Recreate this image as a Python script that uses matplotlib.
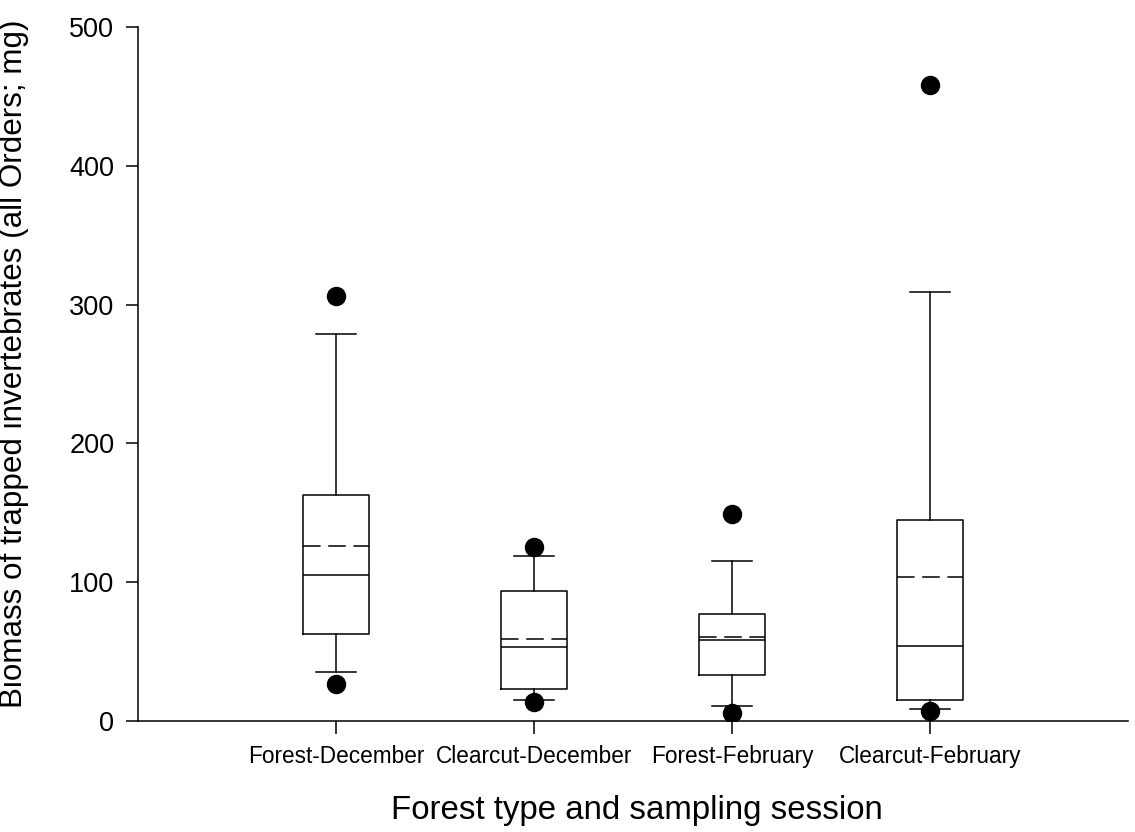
import matplotlib
matplotlib.use("Agg")
import matplotlib.pyplot as plt

categories = ["Forest-December", "Clearcut-December", "Forest-February", "Clearcut-February"]
q1 = [63, 23, 33, 15]
medians = [105, 53, 58, 54]
q3 = [163, 94, 77, 145]
means = [126, 59, 60.5, 104]
whisk_lo = [35, 15, 11, 9]
whisk_hi = [279, 119, 115, 309]
fliers = [[27, 306], [13.5, 125.5], [5.5, 149], [7.5, 458]]

plt.rcParams['font.family'] = ['Liberation Sans', 'DejaVu Sans']

fig = plt.figure(figsize=(11.35, 8.32), dpi=100)
ax = fig.add_axes([138/1135, 1 - 721/832, (1128-138)/1135, (721-27)/832])

stats = []
for i, c in enumerate(categories):
    stats.append(dict(label=c, q1=q1[i], med=medians[i], q3=q3[i], mean=means[i],
                      whislo=whisk_lo[i], whishi=whisk_hi[i], fliers=fliers[i]))

positions = list(range(1, len(categories) + 1))
ax.bxp(stats, positions=positions, widths=0.335, showmeans=True, meanline=True,
       boxprops=dict(color='black', linewidth=1.1),
       medianprops=dict(color='black', linewidth=1.1),
       meanprops=dict(color='black', linewidth=1.1, linestyle=(0, (11.5, 5))),
       whiskerprops=dict(color='black', linewidth=1.1),
       capprops=dict(color='black', linewidth=1.1),
       capwidths=0.2,
       flierprops=dict(marker='o', markerfacecolor='black', markeredgecolor='black',
                       markersize=13, linestyle='none'))

ax.set_xlim(0, 5)
ax.set_ylim(0, 500)
ax.set_yticks([0, 100, 200, 300, 400, 500])
ax.set_xticks(positions)
ax.set_xticklabels(categories)
for s in ['top', 'right']:
    ax.spines[s].set_visible(False)
ax.spines['left'].set_linewidth(1.1)
ax.spines['bottom'].set_linewidth(1.1)
ax.tick_params(axis='y', direction='out', length=9, width=1.1, labelsize=19.5, pad=8)
ax.tick_params(axis='x', direction='out', length=9, width=1.1, labelsize=16.3, pad=8)

ax.set_ylabel("Biomass of trapped invertebrates (all Orders; mg)", fontsize=22.6,
              ha='center', va='center')
ax.yaxis.set_label_coords((14 - 138) / 990, (721 - 364) / 694)
ax.set_xlabel("Forest type and sampling session", fontsize=23.8, ha='center', va='center')
ax.xaxis.set_label_coords((637 - 138) / 990, (721 - 811) / 694)

fig.savefig("out.png", dpi=100)
